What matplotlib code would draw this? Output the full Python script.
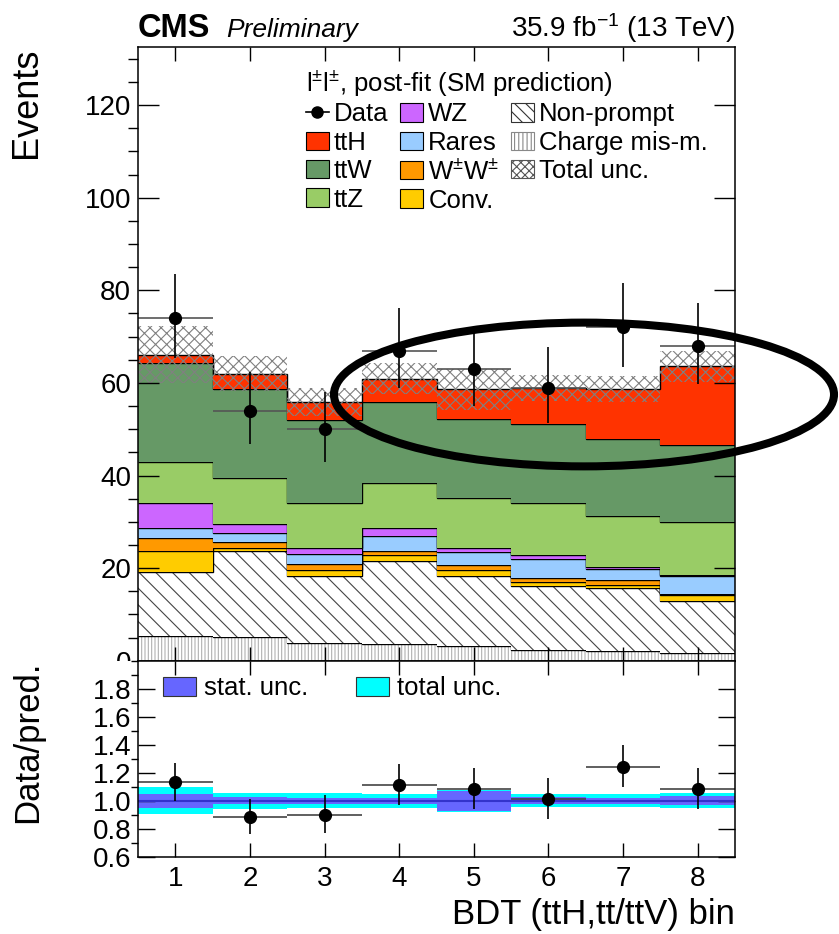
import numpy as np
import matplotlib
matplotlib.use("Agg")
import matplotlib.pyplot as plt
from matplotlib.patches import Patch, Rectangle, Ellipse
from matplotlib.lines import Line2D
from matplotlib.ticker import MultipleLocator, FormatStrFormatter

plt.rcParams['font.family'] = ['Liberation Sans', 'DejaVu Sans']
plt.rcParams['mathtext.fontset'] = 'custom'
plt.rcParams['mathtext.rm'] = 'Liberation Sans'
plt.rcParams['mathtext.it'] = 'Liberation Sans:italic'
plt.rcParams['hatch.linewidth'] = 0.8

# BDT bins
bins = [1, 2, 3, 4, 5, 6, 7, 8]

# background / signal yields per bin
chargemis = [5.4, 5.1, 3.9, 3.7, 3.1, 2.4, 2.0, 1.7]
nonprompt = [13.8, 18.5, 14.4, 17.8, 15.2, 13.8, 13.7, 11.1]
conv      = [4.5, 0.8, 1.3, 1.3, 1.3, 0.9, 0.7, 1.3]
ww        = [2.7, 1.2, 1.3, 0.9, 1.1, 0.7, 1.1, 0.3]
rares     = [2.3, 1.9, 2.1, 3.3, 2.7, 4.1, 2.3, 3.9]
wz        = [5.3, 2.0, 1.4, 1.7, 1.0, 0.9, 0.5, 0.2]
ttz       = [9.0, 9.9, 9.7, 9.7, 10.7, 11.2, 11.0, 11.4]
ttw       = [21.2, 19.2, 17.8, 17.4, 17.2, 17.2, 16.5, 16.7]
tth       = [1.9, 3.4, 3.9, 5.1, 6.3, 7.7, 10.8, 17.0]
tot_unc   = [6.2, 3.8, 3.0, 3.3, 4.4, 2.9, 2.8, 3.4]

# data
data      = [74, 54, 50, 67, 63, 59, 72, 68]
data_up   = [9.6, 8.4, 8.1, 9.2, 9.0, 8.7, 9.5, 9.3]
data_dn   = [8.6, 7.3, 7.1, 8.2, 7.9, 7.7, 8.5, 8.2]

# ratio panel
ratio     = [1.13, 0.88, 0.90, 1.11, 1.08, 1.01, 1.24, 1.08]
ratio_up  = [0.14, 0.13, 0.14, 0.15, 0.15, 0.15, 0.16, 0.15]
ratio_dn  = [0.13, 0.12, 0.13, 0.14, 0.14, 0.14, 0.14, 0.14]
stat_unc  = [0.050, 0.027, 0.022, 0.022, 0.072, 0.024, 0.022, 0.030]
total_unc = [0.098, 0.057, 0.053, 0.051, 0.078, 0.048, 0.045, 0.054]
ratio_ticks = [0.6, 0.8, 1.0, 1.2, 1.4, 1.6, 1.8]

# stack order, bottom -> top
stack = [
    ("Charge mis-m.", chargemis, "white", "#b0b0b0", "|||||"),
    ("Non-prompt", nonprompt, "white", "#444444", "\\\\"),
    ("Conv.", conv, "#ffcc00", None, None),
    ("W$^{\\pm}$W$^{\\pm}$", ww, "#ff9900", None, None),
    ("Rares", rares, "#99ccff", None, None),
    ("WZ", wz, "#cc66ff", None, None),
    ("ttZ", ttz, "#99cc66", None, None),
    ("ttW", ttw, "#669966", None, None),
    ("ttH", tth, "#ff3300", None, None),
]

x = np.array(bins)
edges = np.arange(0.5, len(bins) + 1, 1.0)

fig = plt.figure(figsize=(8.39, 9.34), dpi=100)
ax = fig.add_axes([0.1645, 0.2926, 0.7116, 0.6568], zorder=0)
rax = fig.add_axes([0.1645, 0.0828, 0.7116, 0.2098], zorder=2)

# Step 1 - stacked histogram
bottom = np.zeros(len(bins))
for name, vals, fc, hc, hatch in stack:
    top = bottom + np.array(vals)
    if hatch:
        ax.stairs(top, edges, baseline=bottom, fill=True, facecolor=fc,
                  edgecolor=hc, hatch=hatch, linewidth=0)
    else:
        ax.stairs(top, edges, baseline=bottom, fill=True, facecolor=fc,
                  edgecolor=fc, linewidth=0)
    ax.stairs(top, edges, baseline=None, color="black", lw=1.0)
    bottom = top

pred = bottom
unc = np.array(tot_unc)
ax.stairs(pred + unc, edges, baseline=pred - unc, fill=True, facecolor="none",
          edgecolor="#808080", hatch="xxx", linewidth=0)

# Step 2 - data points
ax.errorbar(x, data, xerr=0.5, fmt="none", ecolor="#555555", elinewidth=1.2)
ax.errorbar(x, data, yerr=[data_dn, data_up], fmt="o", color="black",
            ms=8.5, elinewidth=1.2, capsize=0)

ax.set_xlim(0.5, 8.5)
ax.set_ylim(0, 132.5)
ax.set_xticks(bins)
ax.yaxis.set_major_locator(MultipleLocator(20))
ax.yaxis.set_minor_locator(MultipleLocator(5))
ax.tick_params(direction="in", top=True, right=True, labelsize=20, width=1, pad=5)
ax.tick_params(axis="x", which="major", length=10, labelbottom=False)
ax.tick_params(axis="y", which="major", length=15)
ax.tick_params(axis="y", which="minor", length=7.5, width=1)
for s in ax.spines.values():
    s.set_linewidth(1.1)
ax.set_ylabel("Events", fontsize=26, loc="top")
ax.yaxis.set_label_coords(-0.1575, 1.0)

# legend
handles = [
    Line2D([], [], color="black", marker="o", ms=8, lw=1.2),
    Patch(facecolor="#ff3300", edgecolor="black", lw=0.8),
    Patch(facecolor="#669966", edgecolor="black", lw=0.8),
    Patch(facecolor="#99cc66", edgecolor="black", lw=0.8),
    Patch(facecolor="#cc66ff", edgecolor="black", lw=0.8),
    Patch(facecolor="#99ccff", edgecolor="black", lw=0.8),
    Patch(facecolor="#ff9900", edgecolor="black", lw=0.8),
    Patch(facecolor="#ffcc00", edgecolor="black", lw=0.8),
    Patch(facecolor="white", edgecolor="#333333", hatch="\\\\\\", lw=0.8),
    Patch(facecolor="white", edgecolor="#888888", hatch="||||", lw=0.8),
    Patch(facecolor="white", edgecolor="#555555", hatch="xxxx", lw=0.8),
]
labels = ["Data", "ttH", "ttW", "ttZ", "WZ", "Rares", "W$^{\\pm}$W$^{\\pm}$",
          "Conv.", "Non-prompt", "Charge mis-m.", "Total unc."]
leg = ax.legend(handles, labels, ncol=3, loc="upper left",
                bbox_to_anchor=(0.281, 0.966), frameon=False, fontsize=18.5,
                title="l$^{\\pm}$l$^{\\pm}$, post-fit (SM prediction)",
                title_fontsize=18.5, alignment="left", handlelength=0.9,
                handleheight=0.72, handletextpad=0.2, labelspacing=0.17,
                columnspacing=0.45, borderpad=0, borderaxespad=0)

# highlight ellipse
ax.add_patch(Ellipse((6.476, 57.5), 6.70, 31.05, fill=False, lw=5.8,
                     edgecolor="black", clip_on=False, zorder=10))

# white strip hiding the lower half of the "0" label
fig.add_artist(Rectangle((0, 0), 0.1645, 0.2926, transform=fig.transFigure,
                         facecolor="white", edgecolor="none", zorder=1))

# Step 3 - ratio panel
rax.bar(x, 2 * np.array(total_unc), bottom=1 - np.array(total_unc), width=1.0,
        color="#00ffff", linewidth=0)
rax.bar(x, 2 * np.array(stat_unc), bottom=1 - np.array(stat_unc), width=1.0,
        color="#6666ff", linewidth=0)
rax.hlines(1.0, 0.5, 8.5, color="#3333cc", lw=1.5)
rax.errorbar(x, ratio, xerr=0.5, fmt="none", ecolor="#444444", elinewidth=1.2)
rax.errorbar(x, ratio, yerr=[ratio_dn, ratio_up], fmt="o", color="black",
             ms=8.5, elinewidth=1.2, capsize=0)

rax.set_xlim(0.5, 8.5)
rax.set_ylim(0.6, 2.0)
rax.set_xticks(bins)
rax.set_yticks(ratio_ticks)
rax.yaxis.set_minor_locator(MultipleLocator(0.1))
rax.yaxis.set_major_formatter(FormatStrFormatter("%.1f"))
rax.tick_params(direction="in", top=True, right=True, labelsize=20, width=1)
rax.tick_params(axis="x", which="major", length=10, pad=7)
rax.tick_params(axis="y", which="major", length=12, pad=5)
rax.tick_params(axis="y", which="minor", length=5, width=1)
for s in rax.spines.values():
    s.set_linewidth(1.1)
rax.set_ylabel("Data/pred.", fontsize=25, loc="top")
rax.yaxis.set_label_coords(-0.1575, 1.0)
rax.set_xlabel("BDT (ttH,tt/ttV) bin", fontsize=25, loc="right", labelpad=4)

rleg_handles = [Patch(facecolor="#6666ff", edgecolor="#333333", lw=0.8),
                Patch(facecolor="#00ffff", edgecolor="#333333", lw=0.8)]
rax.legend(rleg_handles, ["stat. unc.", "total unc."], ncol=2, loc="upper left",
           bbox_to_anchor=(0.042, 0.92), frameon=False, fontsize=18.5,
           handlelength=1.3, handleheight=0.75, handletextpad=0.3,
           columnspacing=1.85, borderpad=0, borderaxespad=0)

# header texts
fig.text(0.1645, 0.9604, "CMS", fontsize=23.5, fontweight="bold", va="baseline")
fig.text(0.269, 0.9604, "Preliminary", fontsize=19, style="italic", va="baseline")
fig.text(0.876, 0.9604, "35.9 fb$^{-1}$ (13 TeV)", fontsize=20, ha="right",
         va="baseline")

fig.savefig("out.png", dpi=100)
